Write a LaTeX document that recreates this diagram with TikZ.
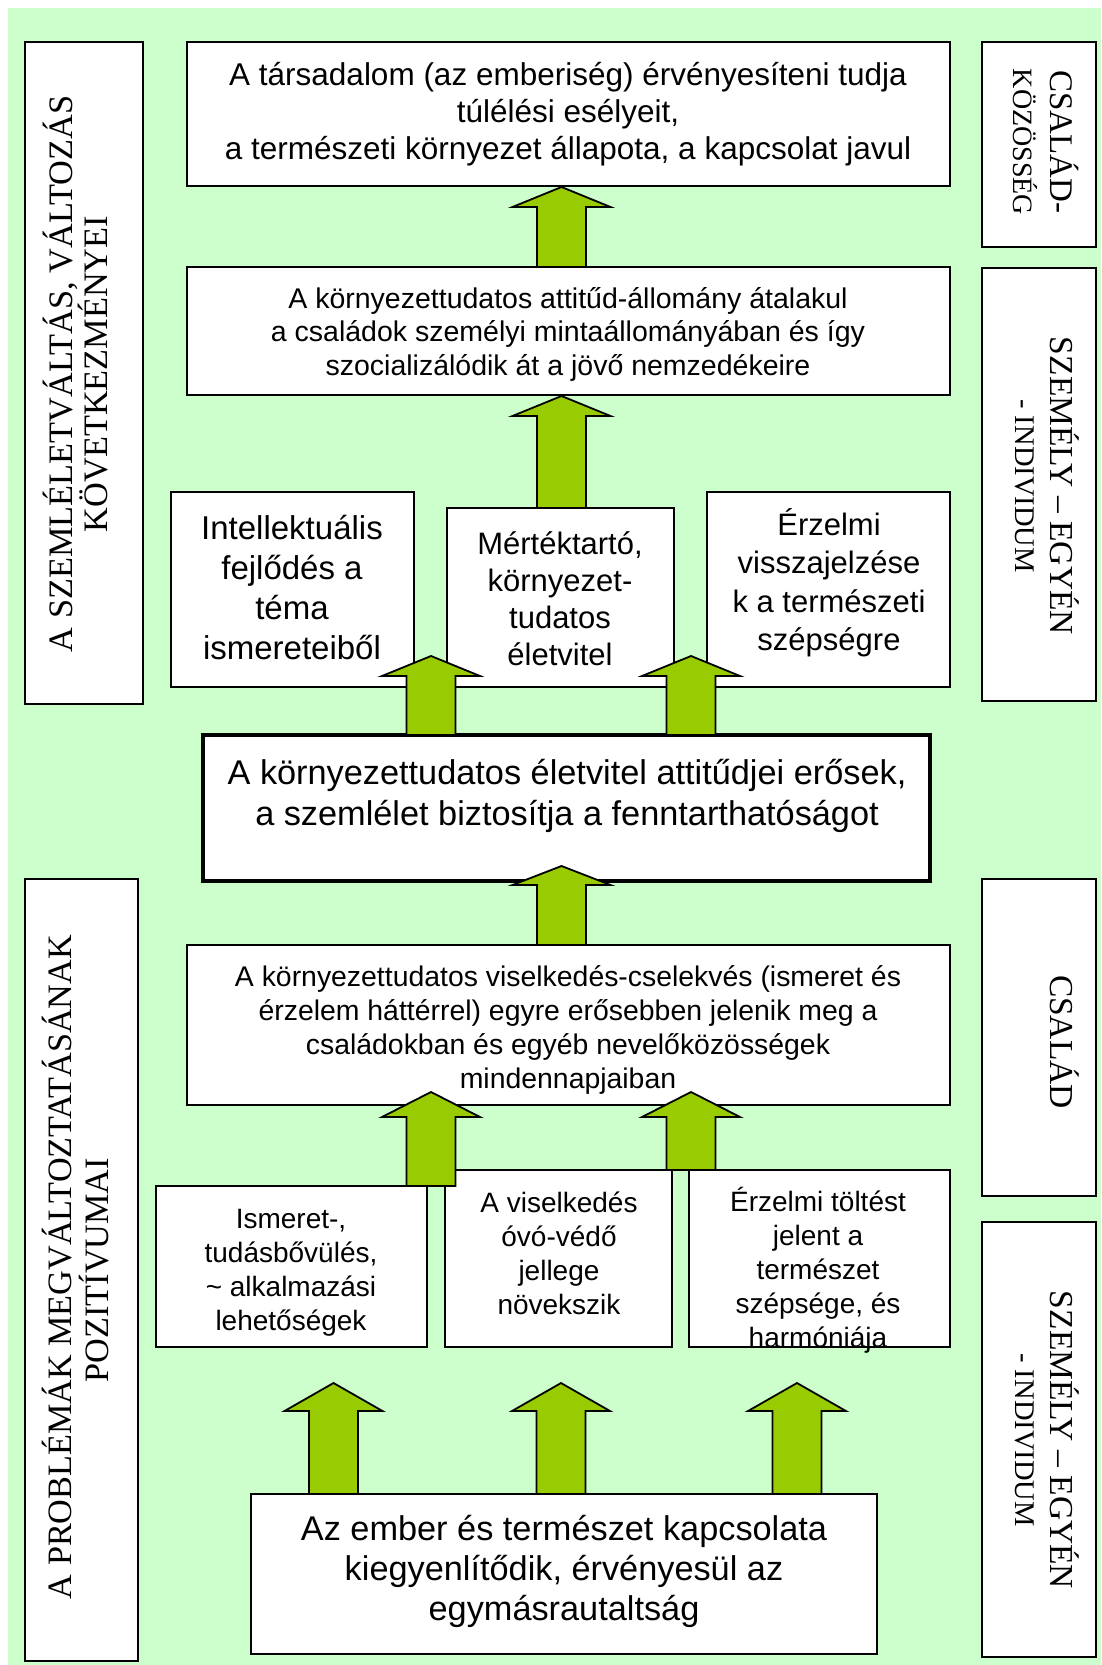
\documentclass[tikz,border=0pt]{standalone}
\usepackage{fontspec}
\setmainfont{Liberation Sans}
\newfontfamily\sidefont{Liberation Serif}
\definecolor{bg}{HTML}{CCFFCC}
\definecolor{arr}{HTML}{99CC00}
\tikzset{
  box/.style={draw=black, line width=1.8pt, fill=white},
  thickbox/.style={draw=black, line width=4.5pt, fill=white},
  bigarrow/.style={draw=black, line width=1.8pt, fill=arr, line join=miter},
  txt/.style={align=center, inner sep=0pt, text=black},
  sidel/.style={inner sep=0pt, anchor=base, rotate=90, font=\sidefont},
  sider/.style={inner sep=0pt, anchor=base, rotate=-90, font=\sidefont},
}
\newcommand\blockarr[4]{%
  \filldraw[bigarrow] (#1-24.5,#4) -- (#1-24.5,#3) -- (#1-49,#3) -- (#1,#2)
    -- (#1+49,#3) -- (#1+24.5,#3) -- (#1+24.5,#4) -- cycle;}
\begin{document}
\begin{tikzpicture}[x=1pt,y=-1pt]
\useasboundingbox (0,0) rectangle (1101,1665);
\fill[bg] (8,8) rectangle (1101,1665);

% side boxes
\draw[box] (25,42) rectangle (143,704);
\draw[box] (25,879) rectangle (138,1661);
\draw[box] (982,42) rectangle (1096,247);
\draw[box] (982,268) rectangle (1096,701);
\draw[box] (982,879) rectangle (1096,1196);
\draw[box] (982,1222) rectangle (1096,1657);

% central boxes
\draw[box] (187,42) rectangle (950,186);
\draw[box] (187,267) rectangle (950,395);
\draw[box] (171,492) rectangle (414,687);
\draw[box] (447,508) rectangle (674,687);
\draw[box] (707,492) rectangle (950,687);
\draw[thickbox] (203,735) rectangle (930,881);
\draw[box] (187,945) rectangle (950,1105);
\draw[box] (156,1186) rectangle (427,1347);
\draw[box] (445,1170) rectangle (672,1347);
\draw[box] (689,1170) rectangle (950,1347);
\draw[box] (251,1494) rectangle (877,1654);

% texts
\node[txt, font=\fontsize{31.5}{37}\selectfont] (t1) at (568,114)
  {A társadalom (az emberiség) érvényesíteni tudja\\túlélési esélyeit,\\a természeti környezet állapota, a kapcsolat javul};
\node[txt, font=\fontsize{28.5}{33.5}\selectfont] (t2) at (568,334)
  {A környezettudatos attitűd-állomány átalakul\\a családok személyi mintaállományában és így\\szocializálódik át a jövő nemzedékeire};
\node[txt, font=\fontsize{33}{40}\selectfont] (r1a) at (292,588)
  {Intellektuális\\fejlődés a\\téma\\ismereteiből};
\node[txt, font=\fontsize{31}{37}\selectfont] (r1b) at (560,599)
  {Mértéktartó,\\környezet-\\tudatos\\életvitel};
\node[txt, font=\fontsize{31}{38.5}\selectfont] (r1c) at (829,583)
  {Érzelmi\\visszajelzése\\k a természeti\\szépségre};
\node[txt, font=\fontsize{34.3}{41}\selectfont] (tk) at (567,796)
  {A környezettudatos életvitel attitűdjei erősek,\\a szemlélet biztosítja a fenntarthatóságot};
\node[txt, font=\fontsize{28.4}{34}\selectfont] (t3) at (568,1030)
  {A környezettudatos viselkedés-cselekvés (ismeret és\\érzelem háttérrel) egyre erősebben jelenik meg a\\családokban és egyéb nevelőközösségek\\mindennapjaiban};
\node[txt, font=\fontsize{28}{34}\selectfont] (r2a) at (291,1273)
  {Ismeret-,\\tudásbővülés,\\\textasciitilde{} alkalmazási\\lehetőségek};
\node[txt, font=\fontsize{28}{34}\selectfont] (r2b) at (559,1253)
  {A viselkedés\\óvó-védő\\jellege\\növekszik};
\node[txt, font=\fontsize{28}{34}\selectfont] (r2c) at (818,1270)
  {Érzelmi töltést\\jelent a\\természet\\szépsége, és\\harmóniája};
\node[txt, font=\fontsize{34.3}{40}\selectfont] (bt) at (564,1571)
  {Az ember és természet kapcsolata\\kiegyenlítődik, érvényesül az\\egymásrautaltság};

% side labels
\node[sidel, font=\sidefont\fontsize{34.3}{35}\selectfont] (l1a) at (72,374) {A SZEMLÉLETVÁLTÁS, VÁLTOZÁS};
\node[sidel, font=\sidefont\fontsize{34.3}{35}\selectfont] (l1b) at (107,374) {KÖVETKEZMÉNYEI};
\node[sidel, font=\sidefont\fontsize{34.2}{36}\selectfont] (l2a) at (71,1267) {A PROBLÉMÁK MEGVÁLTOZTATÁSÁNAK};
\node[sidel, font=\sidefont\fontsize{34.2}{36}\selectfont] (l2b) at (108,1270) {POZITÍVUMAI};
\node[sider, font=\sidefont\fontsize{33}{35}\selectfont] (ra1) at (1050,142) {CSALÁD-};
\node[sider, font=\sidefont\fontsize{28}{30}\selectfont] (ra2) at (1013,142) {KÖZÖSSÉG};
\node[sider, font=\sidefont\fontsize{33.5}{35}\selectfont] (rb1) at (1050,486) {SZEMÉLY – EGYÉN};
\node[sider, font=\sidefont\fontsize{28.5}{30}\selectfont] (rb2) at (1015,486) {- INDIVIDUM};
\node[sider, font=\sidefont\fontsize{33.5}{35}\selectfont] (rc1) at (1050,1042) {CSALÁD};
\node[sider, font=\sidefont\fontsize{33.5}{35}\selectfont] (rd1) at (1050,1440) {SZEMÉLY – EGYÉN};
\node[sider, font=\sidefont\fontsize{28.5}{30}\selectfont] (rd2) at (1015,1440) {- INDIVIDUM};

% block arrows: centre x, tip y, head base y, bottom y
\blockarr{561.5}{187}{207}{267}
\blockarr{561.5}{396}{416}{508}
\blockarr{431}{656}{676}{735}
\blockarr{691}{656}{676}{735}
\blockarr{561.5}{866}{885}{945}
\blockarr{431}{1092}{1117}{1186}
\blockarr{691}{1092}{1117}{1170}
\blockarr{333.5}{1383}{1411}{1494}
\blockarr{561}{1383}{1411}{1494}
\blockarr{797}{1383}{1411}{1494}
\end{tikzpicture}
\end{document}
